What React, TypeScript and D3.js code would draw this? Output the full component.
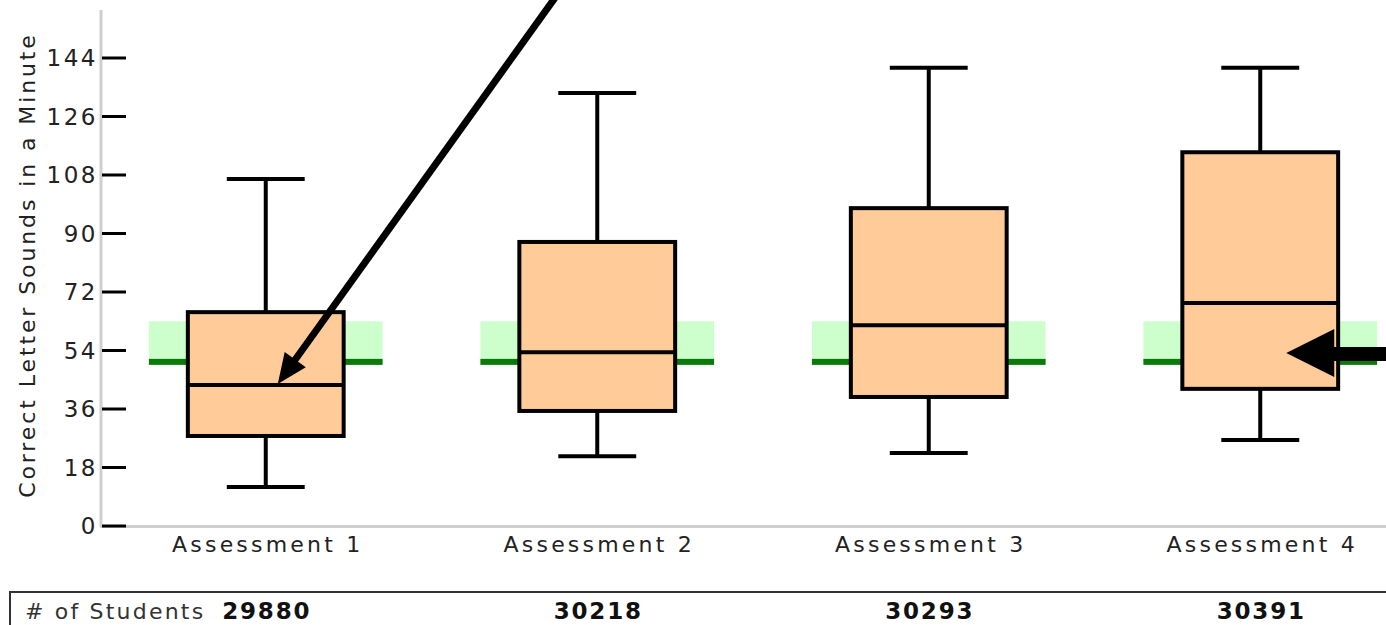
import React from "react";
import { scaleBand, scaleLinear } from "d3";

// data
const assessments = ["Assessment 1", "Assessment 2", "Assessment 3", "Assessment 4"];
const whiskerLow = [12, 21.5, 22.5, 26.5];
const quartile1 = [27.7, 35.4, 39.7, 42.2];
const medians = [43.4, 53.5, 61.8, 68.6];
const quartile3 = [65.8, 87.4, 97.8, 115];
const whiskerHigh = [106.8, 133.2, 141, 141];
const studentCounts = ["29880", "30218", "30293", "30391"];
const yTicks = [0, 18, 36, 54, 72, 90, 108, 126, 144];
const benchmarkLow = 50.5;
const benchmarkHigh = 63;

const width = 1386;
const height = 625;
const font = "'DejaVu Sans', Verdana, sans-serif";

const App = () => {
  const yScale = scaleLinear().domain([0, 144]).range([526, 58]);
  const xScale = scaleBand().domain(assessments).range([100, 1426]);

  const step = xScale.bandwidth();
  const boxW = step * 0.47;
  const bandW = step * 0.705;
  const capW = step * 0.235;
  const cx = (a: string) => (xScale(a) as number) + step / 2;

  // arrow 1 points at the first median
  const tip1x = cx(assessments[0]) + 12;
  const tip1y = yScale(medians[0]) - 1;
  const dirx = 0.583, diry = -0.812;
  const headLen = 30, headHalf = 13;
  const base1x = tip1x + dirx * headLen;
  const base1y = tip1y + diry * headLen;
  const px = -diry, py = dirx;

  // arrow 2 points into the fourth box
  const tip2x = cx(assessments[3]) + 26;
  const tip2y = yScale(53.2);

  return (
    <div style={{ position: "absolute", left: 0, top: 0 }}>
      <svg width={width} height={height} style={{ display: "block", background: "#fff" }}>
        {/* benchmark band */}
        {assessments.map((a, i) => (
          <g key={"b" + i}>
            <rect x={cx(a) - bandW / 2} y={yScale(benchmarkHigh)} width={bandW}
              height={yScale(benchmarkLow) - yScale(benchmarkHigh)} fill="#ccffcc" />
            <rect x={cx(a) - bandW / 2} y={yScale(benchmarkLow) - 3} width={bandW} height={6} fill="#0a7a0a" />
          </g>
        ))}

        {/* axes */}
        <line x1={101} x2={101} y1={10} y2={527} stroke="#cfcfcf" strokeWidth={3} />
        <line x1={100} x2={width} y1={526.5} y2={526.5} stroke="#cfcfcf" strokeWidth={3} />
        {yTicks.map((t) => (
          <g key={t} transform={`translate(0, ${yScale(t)})`}>
            <line x1={102} x2={126} stroke="#000" strokeWidth={3} />
            <text x={98} dy="0.36em" textAnchor="end" fontFamily={font} fontSize={23}
              letterSpacing={2.5} fill="#222">{t}</text>
          </g>
        ))}
        <text transform={`translate(35, 265) rotate(-90)`} textAnchor="middle" fontFamily={font}
          fontSize={22} letterSpacing={2.9} fill="#222">Correct Letter Sounds in a Minute</text>

        {/* boxes */}
        {assessments.map((a, i) => {
          const c = cx(a);
          return (
            <g key={a}>
              <line x1={c} x2={c} y1={yScale(whiskerHigh[i])} y2={yScale(quartile3[i])} stroke="#000" strokeWidth={4} />
              <line x1={c} x2={c} y1={yScale(quartile1[i])} y2={yScale(whiskerLow[i])} stroke="#000" strokeWidth={4} />
              <line x1={c - capW / 2} x2={c + capW / 2} y1={yScale(whiskerHigh[i])} y2={yScale(whiskerHigh[i])} stroke="#000" strokeWidth={4} />
              <line x1={c - capW / 2} x2={c + capW / 2} y1={yScale(whiskerLow[i])} y2={yScale(whiskerLow[i])} stroke="#000" strokeWidth={4} />
              <rect x={c - boxW / 2} y={yScale(quartile3[i])} width={boxW}
                height={yScale(quartile1[i]) - yScale(quartile3[i])} fill="#ffcc99" stroke="#000" strokeWidth={4} />
              <line x1={c - boxW / 2} x2={c + boxW / 2} y1={yScale(medians[i])} y2={yScale(medians[i])} stroke="#000" strokeWidth={4} />
              <text x={c + 2} y={552} textAnchor="middle" fontFamily={font} fontSize={22} letterSpacing={3.2} fill="#222">{a}</text>
            </g>
          );
        })}

        {/* arrows */}
        <line x1={tip1x + dirx * 490} y1={tip1y + diry * 490} x2={base1x - dirx * 2} y2={base1y - diry * 2}
          stroke="#000" strokeWidth={7} />
        <polygon points={`${tip1x},${tip1y} ${base1x + px * headHalf},${base1y + py * headHalf} ${base1x - px * headHalf},${base1y - py * headHalf}`} fill="#000" />
        <polygon points={`${tip2x},${tip2y} ${tip2x + 48},${tip2y - 24} ${tip2x + 48},${tip2y + 24}`} fill="#000" />
        <line x1={tip2x + 46} x2={width + 5} y1={tip2y + 1} y2={tip2y + 1} stroke="#000" strokeWidth={14} />

        {/* student count table */}
        <rect x={10} y={592} width={1400} height={60} fill="none" stroke="#333" strokeWidth={2} />
        <text x={25} y={619} fontFamily={font} fontSize={22} letterSpacing={2.2} fill="#333"># of Students</text>
        {assessments.map((a, i) => (
          <text key={"n" + i} x={cx(a) + 1} y={619} textAnchor="middle" fontFamily={font} fontSize={23}
            fontWeight="bold" letterSpacing={1.8} fill="#111">{studentCounts[i]}</text>
        ))}
      </svg>
    </div>
  );
};

export default App;
